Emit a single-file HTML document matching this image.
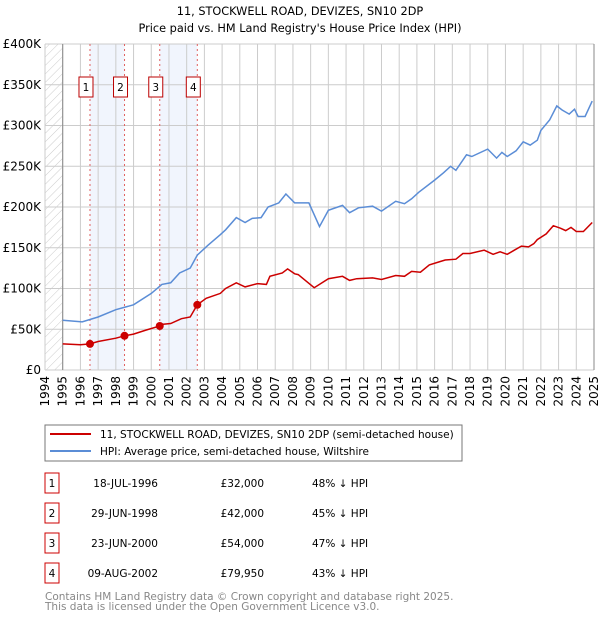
<!DOCTYPE html>
<html><head><meta charset="utf-8"><style>
body{margin:0;background:#fff;font-family:"DejaVu Sans","Liberation Sans",sans-serif;}
svg text{font-family:"DejaVu Sans","Liberation Sans",sans-serif;}
</style></head><body>
<svg id="chart" width="600" height="620" xmlns="http://www.w3.org/2000/svg">
<defs><pattern id="hatch" width="6" height="6" patternUnits="userSpaceOnUse" patternTransform="rotate(45)"><line x1="0" y1="0" x2="0" y2="6" stroke="#ccc" stroke-width="1"/></pattern></defs>
<text x="300" y="15" text-anchor="middle" font-size="11.3">11, STOCKWELL ROAD, DEVIZES, SN10 2DP</text>
<text x="300" y="32" text-anchor="middle" font-size="11.3">Price paid vs. HM Land Registry's House Price Index (HPI)</text>
<g id="plot"></g>
<rect x="45" y="425" width="417" height="36" fill="#fff" stroke="#777"/>
<line x1="50" y1="434" x2="91" y2="434" stroke="#cc0000" stroke-width="2"/>
<text x="100" y="438" font-size="10.5">11, STOCKWELL ROAD, DEVIZES, SN10 2DP (semi-detached house)</text>
<line x1="50" y1="451" x2="91" y2="451" stroke="#5b8dd6" stroke-width="2"/>
<text x="100" y="455" font-size="10.5">HPI: Average price, semi-detached house, Wiltshire</text>
<g id="table" font-size="10.5"></g>
<text x="45" y="600" font-size="10.5" fill="#888">Contains HM Land Registry data © Crown copyright and database right 2025.</text>
<text x="45" y="610" font-size="10.5" fill="#888">This data is licensed under the Open Government Licence v3.0.</text>
</svg>
<script>
const yTicks=[0,50,100,150,200,250,300,350,400];
const yTickLabels=["£0","£50K","£100K","£150K","£200K","£250K","£300K","£350K","£400K"];
const xYears=[1994,1995,1996,1997,1998,1999,2000,2001,2002,2003,2004,2005,2006,2007,2008,2009,2010,2011,2012,2013,2014,2015,2016,2017,2018,2019,2020,2021,2022,2023,2024,2025];
const hpiT=[1995,1996.1,1997,1998,1999,2000,2000.6,2001.1,2001.6,2002.2,2002.6,2003.2,2003.9,2004.2,2004.8,2005.3,2005.7,2006.2,2006.6,2007.2,2007.6,2008.1,2008.9,2009.5,2010,2010.8,2011.2,2011.7,2012.5,2013,2013.8,2014.3,2014.7,2015.1,2016,2016.5,2016.9,2017.2,2017.8,2018.1,2019,2019.5,2019.8,2020.1,2020.6,2021,2021.4,2021.8,2022,2022.5,2022.9,2023.2,2023.6,2023.9,2024.1,2024.5,2024.9];
const hpiV=[61,59,65,74,80,94,105,107,119,125,141,153,166,172,187,181,186,187,200,205,216,205,205,176,196,202,193,199,201,195,207,204,210,218,233,242,250,245,264,262,271,260,267,262,269,280,276,282,294,307,324,319,314,320,311,311,330];
const propT=[1995,1996,1996.54,1997,1998,1998.49,1999,1999.7,2000.48,2000.6,2001.1,2001.7,2002.2,2002.6,2003.1,2003.9,2004.2,2004.8,2005.3,2006,2006.5,2006.7,2007.4,2007.7,2008.1,2008.3,2009.2,2010,2010.8,2011.2,2011.6,2012.5,2013,2013.8,2014.3,2014.7,2015.2,2015.7,2016.3,2016.6,2017.2,2017.6,2018,2018.8,2019.3,2019.7,2020.1,2020.5,2020.9,2021.3,2021.6,2021.8,2022.3,2022.7,2023.1,2023.4,2023.7,2024,2024.4,2024.9];
const propV=[32,31,32,35,39,42,44,49,54,56,57,63,65,79.95,88,94,100,107,102,106,105,115,119,124,118,117,101,112,115,110,112,113,111,116,115,121,120,129,133,135,136,143,143,147,142,145,142,147,152,151,155,160,167,177,174,171,175,170,170,181];
const saleLabels=["1","2","3","4"];
const saleT=[1996.54,1998.49,2000.48,2002.6];
const saleV=[32,42,54,79.95];
const saleDates=["18-JUL-1996","29-JUN-1998","23-JUN-2000","09-AUG-2002"];
const salePrices=["£32,000","£42,000","£54,000","£79,950"];
const saleHpi=["48% ↓ HPI","45% ↓ HPI","47% ↓ HPI","43% ↓ HPI"];

const NS="http://www.w3.org/2000/svg";
const X0=45,X1=594,Y0=370,Y1=44;
const xs=t=>X0+(t-1994)/(2025-1994)*(X1-X0);
const ys=v=>Y0-v/400*(Y0-Y1);
const plot=document.getElementById('plot');
function mk(tag,attrs,parent){const e=document.createElementNS(NS,tag);for(const k in attrs)e.setAttribute(k,attrs[k]);(parent||plot).appendChild(e);return e;}
let e;
e=mk('rect',{x:X0,y:Y1,width:xs(1995)-X0,height:Y0-Y1,fill:'url(#hatch)'});


e=mk('rect',{x:xs(saleT[0]),y:Y1,width:xs(saleT[1])-xs(saleT[0]),height:Y0-Y1,fill:'#f1f5fd'});


e=mk('rect',{x:xs(saleT[2]),y:Y1,width:xs(saleT[3])-xs(saleT[2]),height:Y0-Y1,fill:'#f1f5fd'});


yTicks.forEach((v,i)=>{
  e=mk('line',{x1:X0,x2:X1,y1:ys(v),y2:ys(v),stroke:'#ccc'});
  
  
  e=mk('text',{x:X0-4,y:ys(v)+4,'text-anchor':'end','font-size':12});
  e.textContent=yTickLabels[i];
  
  
});
xYears.forEach(yr=>{
  e=mk('line',{x1:xs(yr),x2:xs(yr),y1:Y1,y2:Y0,stroke:'#ccc'});
  
  
  e=mk('text',{x:0,y:0,'font-size':12,'text-anchor':'end',transform:`translate(${xs(yr)+4},${Y0+6}) rotate(-90)`});
  e.textContent=yr;
  
  
});
e=mk('line',{x1:xs(1995),x2:xs(1995),y1:Y1,y2:Y0,stroke:'#888'});


saleT.forEach((t,i)=>{
  e=mk('line',{x1:xs(t),x2:xs(t),y1:Y1,y2:Y0,stroke:'#e06060','stroke-dasharray':'2,3'});
  
  
});
function path(T,V,color,name){
  const d=T.map((t,i)=>(i?'L':'M')+xs(t).toFixed(1)+','+ys(V[i]).toFixed(1)).join('');
  const p=mk('path',{d:d,fill:'none',stroke:color,'stroke-width':1.5});
  
  
}
path(hpiT,hpiV,'#5b8dd6','hpi-line');
path(propT,propV,'#cc0000','property-price-line');
saleT.forEach((t,i)=>{
  e=mk('circle',{cx:xs(t),cy:ys(saleV[i]),r:4,fill:'#cc0000'});
  
  
  e=mk('rect',{x:xs(t)-11,y:77,width:14,height:20,fill:'#fff',stroke:'#b00'});
  
  
  e=mk('text',{x:xs(t)-4,y:91,'text-anchor':'middle','font-size':10.5});
  e.textContent=saleLabels[i];
  
  
});
e=mk('line',{x1:X1,x2:X1,y1:Y1,y2:Y0,stroke:'#888'});


const tbl=document.getElementById('table');
saleLabels.forEach((l,i)=>{
  const cy=483+i*30;
  e=mk('rect',{x:45,y:cy-10,width:14,height:20,fill:'#fff',stroke:'#cc0000'},tbl);
  
  
  e=mk('text',{x:52,y:cy+4,'text-anchor':'middle'},tbl);e.textContent=l;
  
  
  e=mk('text',{x:158,y:cy+4,'text-anchor':'end'},tbl);e.textContent=saleDates[i];
  
  
  e=mk('text',{x:264,y:cy+4,'text-anchor':'end'},tbl);e.textContent=salePrices[i];
  
  
  e=mk('text',{x:312,y:cy+4},tbl);e.textContent=saleHpi[i];
  
  
});
</script>
</body></html>
